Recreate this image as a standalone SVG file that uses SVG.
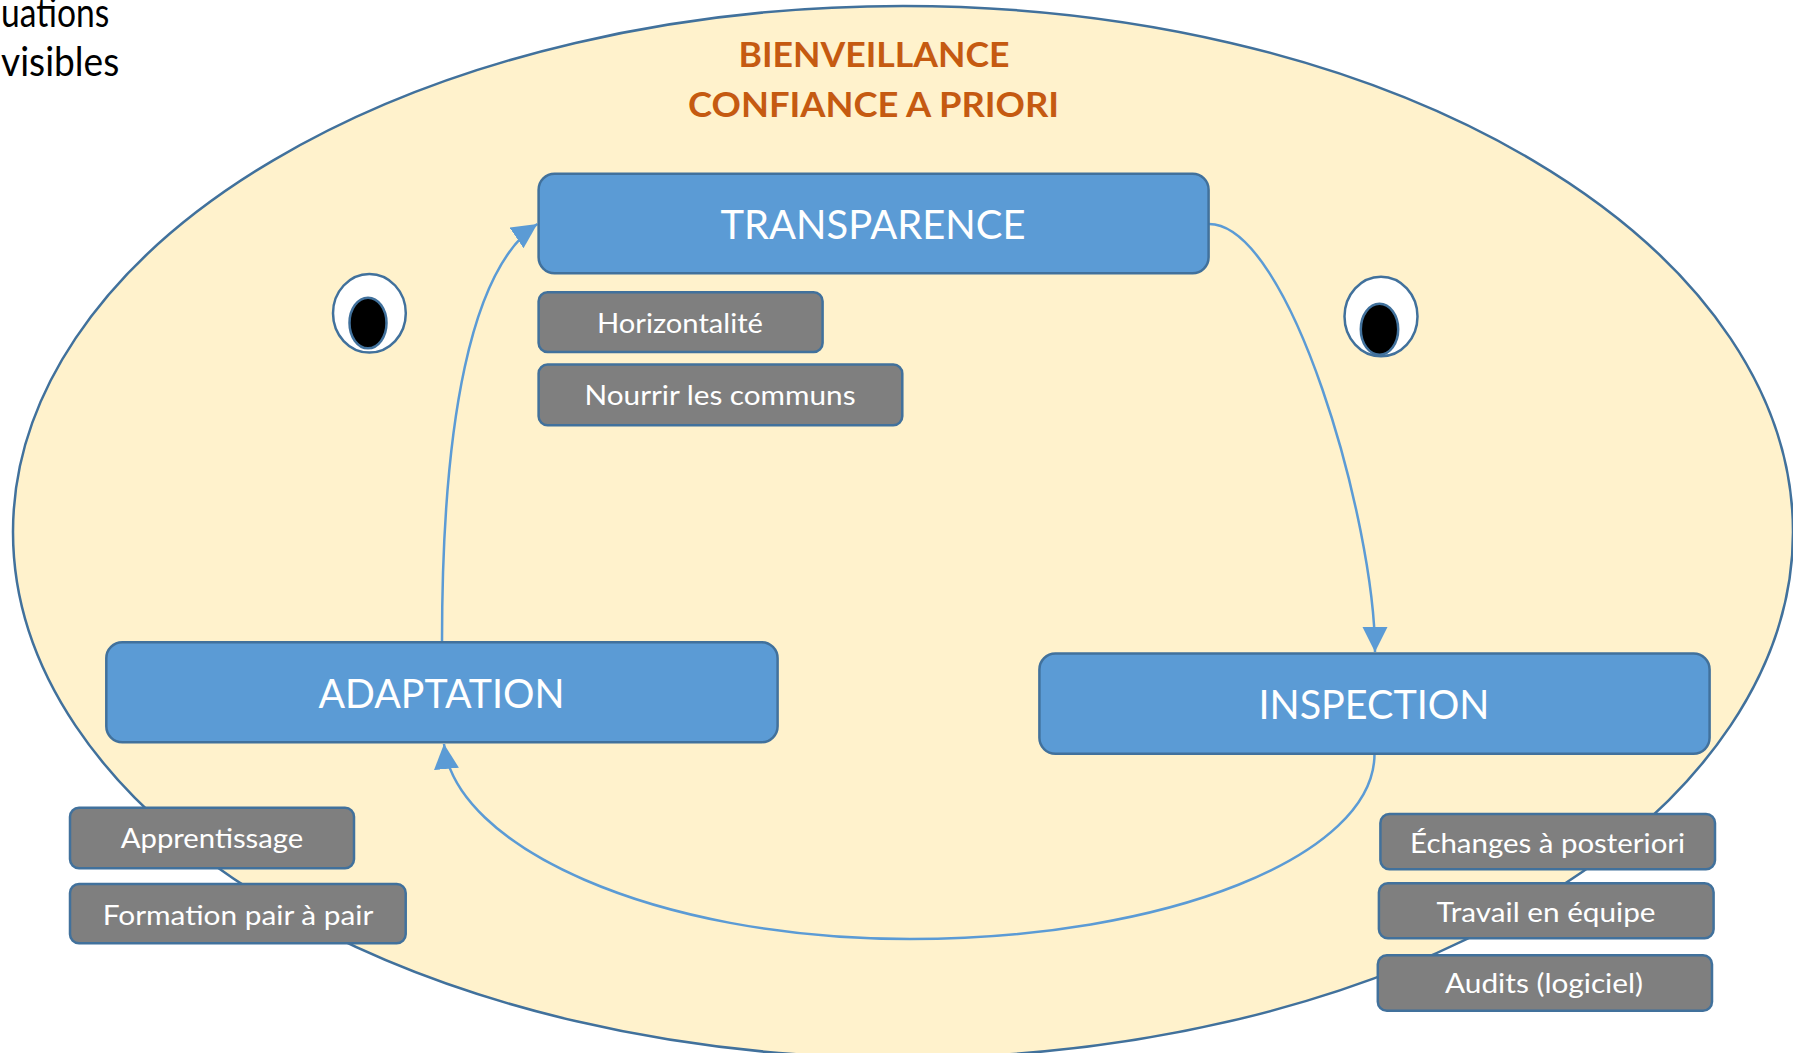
<svg xmlns="http://www.w3.org/2000/svg" width="1793" height="1053" viewBox="0 0 1793 1053">
<defs>
<style>
.big{fill:#5B9BD5;stroke:#41719C;stroke-width:2.5}
.sub{fill:#7F7F7F;stroke:#41719C;stroke-width:2.5}
.bt{font-family:Lato,"Open Sans","Liberation Sans",sans-serif;font-size:40px;fill:#FFFFFF;text-anchor:middle}
.st{font-family:Lato,"Open Sans","Liberation Sans",sans-serif;font-size:27px;fill:#FFFFFF;text-anchor:middle}
.tt{font-family:Lato,"Open Sans","Liberation Sans",sans-serif;font-size:35px;font-weight:bold;fill:#C55A11;text-anchor:middle}
.lt{font-family:Lato,"Open Sans","Liberation Sans",sans-serif;font-size:40px;fill:#000000;text-anchor:start}
.conn{fill:none;stroke:#5B9BD5;stroke-width:2.5}
.eye{fill:#FFFFFF;stroke:#41719C;stroke-width:2.5}
.pupil{fill:#000000;stroke:#41719C;stroke-width:2.5}
</style>
<marker id="arr" markerUnits="userSpaceOnUse" markerWidth="26" markerHeight="26" refX="25" refY="12.5" orient="auto" viewBox="0 0 26 26">
<path d="M0,0 L25,12.5 L0,25 z" fill="#5B9BD5"/>
</marker>
</defs>
<rect x="0" y="0" width="1793" height="1053" fill="#FFFFFF"/>
<g id="left-text">
<text class="lt" x="1" y="26.7" textLength="108.3" lengthAdjust="spacingAndGlyphs">uations</text>
<text class="lt" x="1" y="76" textLength="118.3" lengthAdjust="spacingAndGlyphs">visibles</text>
</g>
<g id="background">
<ellipse cx="903" cy="532" rx="890" ry="526" fill="#FFF2CC" stroke="#41719C" stroke-width="2.5"/>
</g>
<g id="title">
<text class="tt" x="874" y="66.7" textLength="271" lengthAdjust="spacingAndGlyphs">BIENVEILLANCE</text>
<text class="tt" x="873.6" y="117.3" textLength="371" lengthAdjust="spacingAndGlyphs">CONFIANCE A PRIORI</text>
</g>
<g id="eye-left">
<ellipse class="eye" cx="369.4" cy="313.3" rx="36.4" ry="39.3"/>
<ellipse class="pupil" cx="368" cy="323" rx="18.5" ry="25.3"/>
</g>
<g id="eye-right">
<ellipse class="eye" cx="1381" cy="316.5" rx="36.5" ry="39.8"/>
<ellipse class="pupil" cx="1379.5" cy="329.3" rx="18.7" ry="25.5"/>
</g>
<g id="connectors">
<path class="conn" d="M1209,224 C1290,224 1375,522 1375,652" marker-end="url(#arr)"/>
<path class="conn" d="M1374.5,754 C1374.5,856 1166.5,939 910,939 C653,939 454,846 444,744" marker-end="url(#arr)"/>
<path class="conn" d="M442,642 C442,422 470.8,268.6 537.3,224" marker-end="url(#arr)"/>
</g>
<g id="transparence">
<rect class="big" x="538.6" y="173.8" width="670" height="99.5" rx="16"/>
<text class="bt" x="873" y="239.3" textLength="305" lengthAdjust="spacingAndGlyphs">TRANSPARENCE</text>
</g>
<g id="adaptation">
<rect class="big" x="106.3" y="642.2" width="671.3" height="100" rx="16"/>
<text class="bt" x="441.5" y="708.3" textLength="246" lengthAdjust="spacingAndGlyphs">ADAPTATION</text>
</g>
<g id="inspection">
<rect class="big" x="1039.4" y="653.5" width="670.2" height="100.3" rx="16"/>
<text class="bt" x="1374" y="719" textLength="231" lengthAdjust="spacingAndGlyphs">INSPECTION</text>
</g>
<g id="horizontalite">
<rect class="sub" x="538.6" y="292.3" width="284" height="59.8" rx="9"/>
<text class="st" x="680" y="332.7" textLength="166" lengthAdjust="spacingAndGlyphs">Horizontalité</text>
</g>
<g id="nourrir">
<rect class="sub" x="538.6" y="364.5" width="363.7" height="60.7" rx="9"/>
<text class="st" x="720" y="405" textLength="271" lengthAdjust="spacingAndGlyphs">Nourrir les communs</text>
</g>
<g id="apprentissage">
<rect class="sub" x="70" y="807.7" width="284" height="60.6" rx="9"/>
<text class="st" x="212" y="848.3" textLength="182.5" lengthAdjust="spacingAndGlyphs">Apprentissage</text>
</g>
<g id="formation">
<rect class="sub" x="70" y="884" width="335.7" height="59.3" rx="9"/>
<text class="st" x="238" y="925" textLength="270.5" lengthAdjust="spacingAndGlyphs">Formation pair à pair</text>
</g>
<g id="echanges">
<rect class="sub" x="1380.4" y="814" width="334.6" height="55.3" rx="9"/>
<text class="st" x="1547.6" y="852.7" textLength="275" lengthAdjust="spacingAndGlyphs">Échanges à posteriori</text>
</g>
<g id="travail">
<rect class="sub" x="1378.9" y="883.3" width="334.7" height="55" rx="9"/>
<text class="st" x="1546" y="921.7" textLength="219" lengthAdjust="spacingAndGlyphs">Travail en équipe</text>
</g>
<g id="audits">
<rect class="sub" x="1377.8" y="955.3" width="334.2" height="55.4" rx="9"/>
<text class="st" x="1544" y="993.3" textLength="198" lengthAdjust="spacingAndGlyphs">Audits (logiciel)</text>
</g>
</svg>
